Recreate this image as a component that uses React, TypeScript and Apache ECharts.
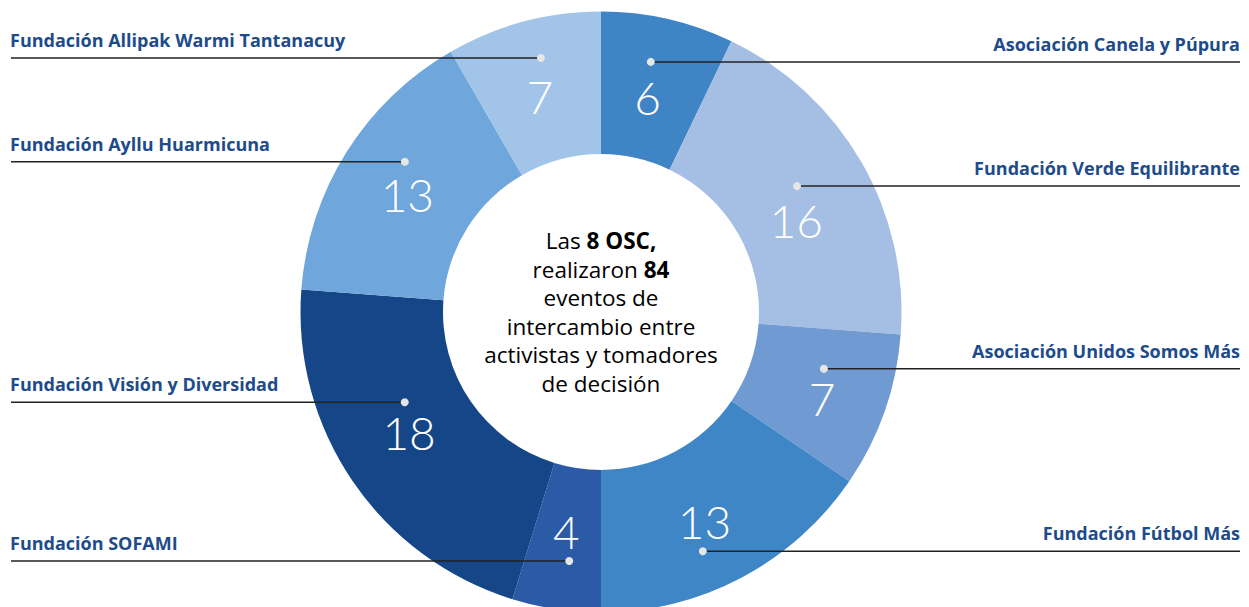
import React, { useEffect, useRef } from "react";
import * as echarts from "echarts";

const categories = [
  "Asociación Canela y Púpura",
  "Fundación Verde Equilibrante",
  "Asociación Unidos Somos Más",
  "Fundación Fútbol Más",
  "Fundación SOFAMI",
  "Fundación Visión y Diversidad",
  "Fundación Ayllu Huarmicuna",
  "Fundación Allipak Warmi Tantanacuy",
];
const values = [6, 16, 7, 13, 4, 18, 13, 7];
const colors = ["#3f84c5", "#a5bfe4", "#6f9bd2", "#3f86c7", "#2b5ba7", "#154687", "#6fa6db", "#a1c4e8"];

// layout (pixels / degrees)
const CX = 601;
const CY = 312;
const R_OUT = 300.5;
const R_IN = 158;
const dotRadius = [255, 233, 230, 260, 251, 216, 247, 261];
const dotAngleShift = [-1.6, -2.7, -5, 4.8, -1.3, 9.6, 5.3, 1.7];
const numberShift = [
  [-5, 12],
  [-6, 25],
  [2, 10],
  [-5, 4],
  [0, -10],
  [0, -10],
  [3, 6],
  [-1, 9],
];

export default function App() {
  const ref = useRef<HTMLDivElement>(null);
  useEffect(() => {
    if (!ref.current) return;
    const chart = echarts.init(ref.current, null, { renderer: "svg" });
    const total = values.reduce((a, b) => a + b, 0);
    const mids: number[] = [];
    let acc = 0;
    values.forEach((v) => {
      mids.push(acc + v / 2);
      acc += v;
    });
    const dotAngle = (i: number) => mids[i] + (dotAngleShift[i] / 360) * total;
    const dotPos = (i: number) => {
      const a = (dotAngle(i) / total) * Math.PI * 2;
      return [CX + dotRadius[i] * Math.sin(a), CY - dotRadius[i] * Math.cos(a)];
    };
    const pieData = categories.map((name, i) => ({ name, value: values[i], itemStyle: { color: colors[i] } }));
    chart.setOption({
      animation: false,
      polar: { center: [CX, CY], radius: R_OUT },
      angleAxis: { type: "value", min: 0, max: total, startAngle: 90, show: false },
      radiusAxis: { type: "value", min: 0, max: R_OUT, show: false },
      graphic: [
        {
          type: "text",
          x: CX,
          y: CY,
          z: 10,
          style: {
            text:
              "{r|Las }{b|8 OSC,}\n{r|realizaron }{b|84}\n{r|eventos de}\n{r|intercambio entre}\n{r|activistas y tomadores}\n{r|de decisión}",
            align: "center",
            verticalAlign: "middle",
            rich: {
              r: { fontSize: 22.5, fontFamily: "Open Sans", color: "#151515", lineHeight: 28.5 },
              b: { fontSize: 22.5, fontFamily: "Open Sans", fontWeight: "bold", color: "#151515", lineHeight: 28.5 },
            },
          },
        },
      ],
      series: [
        {
          type: "pie",
          center: [CX, CY],
          radius: [R_IN, R_OUT],
          startAngle: 90,
          silent: true,
          z: 2,
          data: pieData,
          label: {
            show: true,
            position: "inside",
            formatter: "{c}",
            color: "#ffffff",
            fontFamily: "Lato",
            fontWeight: 300,
            fontSize: 46,
          },
          labelLine: { show: false },
          labelLayout: (params: any) => ({
            dx: numberShift[params.dataIndex][0],
            dy: numberShift[params.dataIndex][1],
          }),
          emphasis: { disabled: true },
        },
        {
          type: "pie",
          center: [CX, CY],
          radius: [0, 10],
          startAngle: 90,
          silent: true,
          z: 3,
          avoidLabelOverlap: false,
          data: categories.map((name, i) => ({ name, value: values[i] })),
          itemStyle: { color: "rgba(0,0,0,0)" },
          emphasis: { disabled: true },
          label: {
            show: true,
            position: "outside",
            formatter: "{b}",
            color: "#1d4b8b",
            fontFamily: "Open Sans",
            fontWeight: "bold",
            fontSize: 18,
            overflow: "none",
          },
          labelLine: { show: true, length: 5, length2: 5, lineStyle: { color: "#222222", width: 1.5 } },
          labelLayout: (params: any) => {
            const i = params.dataIndex;
            const [dx, dy] = dotPos(i);
            const left = dx < CX;
            return {
              x: left ? 10 : 1240,
              y: dy - 9,
              align: left ? "left" : "right",
              verticalAlign: "bottom",
              labelLinePoints: [
                [dx, dy],
                [dx, dy],
                [left ? 11 : 1240, dy],
              ],
            };
          },
        },
        {
          type: "scatter",
          coordinateSystem: "polar",
          silent: true,
          z: 5,
          symbolSize: 8,
          itemStyle: { color: "#e6e6e6", opacity: 1 },
          data: values.map((_, i) => [dotRadius[i], dotAngle(i)]),
        },
      ],
    });
    return () => chart.dispose();
  }, []);
  return (
    <div
      ref={ref}
      style={{ position: "fixed", left: 0, top: 0, width: 1249, height: 607, background: "#ffffff" }}
    />
  );
}
